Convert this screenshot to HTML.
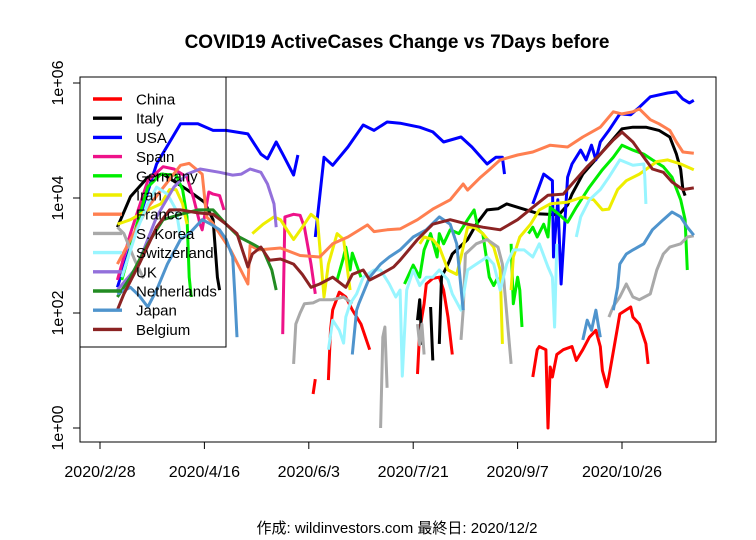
<!DOCTYPE html>
<html><head><meta charset="utf-8"><style>
body{margin:0;background:#fff;width:756px;height:540px;overflow:hidden}
svg{display:block;font-family:"Liberation Sans","Noto Sans CJK JP",sans-serif}
</style></head><body>
<svg id="chart" width="756" height="540">
<text x="397" y="48" text-anchor="middle" font-size="19" font-weight="bold">COVID19 ActiveCases Change vs 7Days before</text>
<rect x="80" y="77" width="636" height="365" fill="none" stroke="#000" stroke-width="1"/>
<g id="axes"></g>
<g id="series"></g>
<g id="legend"></g>
<text x="397" y="533" text-anchor="middle" font-size="15">作成: wildinvestors.com 最終日: 2020/12/2</text>
</svg>
<script>
// Day index counted from 2020/2/28; values are ActiveCases change vs 7 days before
const xTickLabels = ["2020/2/28","2020/4/16","2020/6/3","2020/7/21","2020/9/7","2020/10/26"];
const xTickDays = [0,48,96,144,192,240];
const yTickLabels = ["1e+00","1e+02","1e+04","1e+06"];
const yTickValues = [1,100,10000,1000000];
const seriesNames = ["China","Italy","USA","Spain","Germany","Iran","France","S. Korea","Switzerland","UK","Netherlands","Japan","Belgium"];
const seriesColors = ["#FF0000","#000000","#0000FF","#EE1289","#00EE00","#EEEE00","#FF7F50","#A9A9A9","#98F5FF","#9370DB","#228B22","#4F94CD","#8B2323"];

const china = [[98,3.9],[99,7.1],null,[105,6.8],[106,50],[107,113],[110,230],[113,190],[116,113],[120,64],[124,23],null,[146,8.7],[147,50],[149,145],[150,320],[153,400],[156,420],[158,250],[160,85],[162,19],null,[199,7.7],[201,23],[202,26],[205,23],[206,1.0],[207,11.5],[208,7.7],[210,19],[213,23],[217,26],[219,15],[222,23],[225,38],[228,50],[230,26],[231,10],[233,5.2],[234,7.7],[238,57],[239,96],[244,127],[245,85],[248,64],[251,29],[252,13]];
const italy = [[8,3100],[14,10500],[22,23000],[29,26000],[40,14000],[48,8500],[52,4200],[54,420],[55,250],null,[146,75],[147,170],[148,28],null,[152,127],[153,15],null,[156,29],[157,420],[160,710],[162,1060],[169,1900],[173,3500],[178,6200],[183,6500],[187,7900],[196,6200],[202,5300],[211,5100],[215,7600],[217,11700],[222,26000],[230,58000],[236,106000],[240,160000],[245,170000],[251,170000],[257,150000],[262,115000],[265,58000],[267,31000],[268,14000],[269,11000]];
const usa = [[8,280],[26,39000],[37,195000],[45,195000],[52,150000],[58,150000],[68,130000],[74,58000],[77,48000],[81,94000],[84,58000],[89,25000],[91,56000],null,[99,2100],[103,51000],[107,37000],[114,77000],[121,186000],[126,150000],[132,210000],[138,200000],[147,170000],[153,141000],[158,94000],[166,115000],[171,77000],[178,39000],[182,51000],[185,51000],[186,26000],null,[199,7900],[204,26000],[208,20000],[208.5,940],[210.5,9300],[212,320],[215,23000],[217,39000],[221,68000],[223.5,46000],[226,83000],[228,46000],[230,94000],[234,150000],[239,290000],[244,280000],[248,380000],[253,575000],[261,670000],[265,700000],[268,525000],[271,450000],[273,500000]];
const spain = [[8,375],[14,2400],[22,20000],[29,35000],[34,32000],[40,23000],[43,10000],[46,3500],[47,2800],[50,12700],[52,11700],[55,11000],[57,6200],null,[84,43],[85,4700],[89,5200],[92,5000],[94,3100],[97,710],[99,215]];
const germany = [[10,375],[17,3500],[22,15500],[28,26000],[35,25000],[38,14000],[40,4700],[41,420],[42,190],null,[109,375],[112,940],[113,1400],[115,560],[116,1100],[120,420],null,[140,320],[144,680],[147,420],[149,1250],[152,2400],[155,940],[156,2400],[158,1600],[161,2800],[165,2400],[169,4200],[172,6200],[174,2800],[176,2400],[179,420],[181,300],[183,420],null,[189,1600],[190,145],[192,420],[193,250],[194,57],null,[197,2400],[199,3100],[201,2100],[204,3500],[206,2100],[207,6900],[211,5200],[215,3800],[219,6900],[225,15500],[231,31000],[236,51000],[240,83000],[245,68000],[250,58000],[254,46000],[259,35000],[263,23000],[267,9300],[269,4200],[270,560]];
const iran = [[8,3500],[14,4200],[22,6200],[28,7900],[32,14000],[35,14000],[38,7900],[40,3500],null,[70,2400],[75,3500],[80,4700],[83,4200],[86,2800],[89,1900],[93,3100],[97,5200],[100,4200],[103,190],[105,710],[109,2400],[112,1900],[115,250],null,[147,1600],[149,2100],[153,1900],[156,1400],[160,560],[164,470],[166,940],[169,3100],[172,3100],[176,2400],[181,1400],[184,560],[185,29],null,[189,250],[190,940],[193,2100],[198,3500],[202,6200],[207,7900],[215,8500],[222,10400],[227,9300],[231,6200],[234,6400],[238,14000],[242,20000],[248,26000],[256,43000],[261,46000],[267,39000],[273,31000]];
const france = [[8,710],[22,6900],[37,37000],[41,40000],[47,26000],[49,4700],[51.5,3800],[60,1250],[68,320],[69,1500],[73,1250],[83,1350],[92,1000],[101,940],[107,1600],[114,2100],[123,3400],[126,2600],[132,2800],[138,2900],[146,4200],[153,6400],[161,9300],[167,17500],[169,13700],[175,23000],[179,31000],[184,46000],[192,56000],[199,63000],[207,83000],[215,77000],[222,115000],[230,170000],[236,315000],[240,290000],[245,315000],[248,355000],[253,230000],[257,195000],[262,150000],[265,94000],[268,63000],[273,60000]];
const korea = [[8,3100],[11,2400],[16,830],[20,400],null,[89,13],[90,64],[92,100],[94,145],[98,150],[101,170],[107,170],[112,190],[116,145],null,[129,1],[130,38],[131,57],[132,5],null,[146,64],[147,28],[148,64],[149,19],null,[166,34],[167,112],[168,1060],[173,1600],[178,1900],[183,1400],[185,710],[189,13],null,[234,85],[236,130],[239,190],[242,320],[245,190],[248,170],[253,215],[256,560],[259,1060],[262,1400],[267,1600],[270,2100],[273,2200]];
const swiss = [[10,420],[17,2800],[22,7900],[26,15500],[31,11700],[35,6200],[37,2100],null,[105,23],[107,75],[110,50],[112,30],[113,85],[115,145],[118,215],[121,420],[126,560],[129,560],[133,320],[136,190],[138,250],[139,8],[141,250],[144,560],[147,300],[150,420],[153,420],[156,560],[160,375],[162,215],[166,112],[169,560],[173,710],[178,940],[181,710],[184,250],[187,710],[190,1250],[195,1250],[199,940],[202,1600],[206,630],[208,420],[209,57],[210,1600],null,[219,2100],[221,4700],[225,9300],[230,14000],[234,23000],[239,46000],[245,37000],[250,39000],[250.5,23000],[251,7900]];
const uk = [[8,250],[17,630],[26,4700],[34,15500],[40,26000],[46,32000],[55,28000],[61,25000],[65,26000],[69,32000],[74,28000],[77,17500],[80,7900],[81,3100]];
const netherlands = [[8,190],[14,420],[22,1600],[29,4200],[37,5200],[45,6200],[52,6200],[58,3500],[64,2100],[70,1600],[75,1250],[79,560],[81,250]];
const japan = [[8,215],[14,280],[18,200],[22,127],[26,250],[31,710],[37,1900],[41,2400],[47,4200],[51,3500],[55,2800],[58,1900],[61,940],[62,215],[63,38],null,[116,19],[118,112],[119,145],[124,420],[129,710],[133,940],[138,1250],[144,2100],[150,2800],[156,4700],[161,3500],[164,1600],[167,112],null,[222,34],[224,75],[226,50],[228,112],[230,38],null,[236,112],[238,280],[239,710],[242,1060],[245,1250],[250,1600],[254,2800],[259,4200],[263,5700],[267,4700],[270,3100],[273,2250]];
const belgium = [[8,113],[11,215],[18,710],[26,3100],[32,6200],[37,6200],[45,5500],[52,5200],[58,3500],[63,2400],[68,630],[70,1060],[74,1400],[78,830],[83,870],[89,710],[93,470],[97,280],[101,320],[107,420],[113,280],[116,470],[121,560],[124,375],[129,470],[135,630],[138,830],[146,1900],[153,3500],[161,4200],[169,3500],[176,3100],[184,2800],[192,4200],[199,6900],[206,11200],[213,11700],[217,17500],[224,35000],[230,58000],[236,102000],[240,140000],[245,94000],[250,51000],[254,32000],[259,28000],[263,19000],[268,14000],[273,15000]];
const allSeries = [china,italy,usa,spain,germany,iran,france,korea,swiss,uk,netherlands,japan,belgium];

const NS="http://www.w3.org/2000/svg";
function xScale(d){return 100 + d*2.175;}
function yScale(v){return 428 - Math.log10(v)*57.5;}
function mk(tag,attrs,parent){const e=document.createElementNS(NS,tag);for(const k in attrs)e.setAttribute(k,attrs[k]);parent.appendChild(e);return e;}

const axes=document.getElementById('axes');
const xl=mk('line',{x1:xScale(xTickDays[0]),x2:xScale(xTickDays[xTickDays.length-1]),y1:442,y2:442,stroke:'#000'},axes);


xTickDays.forEach((d,i)=>{
  const t=mk('line',{x1:xScale(d),x2:xScale(d),y1:442,y2:449,stroke:'#000'},axes);
  
  
  const tx=mk('text',{x:xScale(d),y:477,'text-anchor':'middle','font-size':16},axes);
  tx.textContent=xTickLabels[i];
  
  
});
const yl=mk('line',{x1:80,x2:80,y1:yScale(yTickValues[0]),y2:yScale(yTickValues[yTickValues.length-1]),stroke:'#000'},axes);


yTickValues.forEach((v,i)=>{
  const y=yScale(v);
  const t=mk('line',{x1:73,x2:80,y1:y,y2:y,stroke:'#000'},axes);
  
  
  const tx=mk('text',{x:0,y:0,'text-anchor':'middle','font-size':16,transform:`translate(63,${y}) rotate(-90)`},axes);
  tx.textContent=yTickLabels[i];
  
  
});

const sg=document.getElementById('series');
allSeries.forEach((s,i)=>{
  let d='',pen=false;
  s.forEach(p=>{
    if(!p){pen=false;return;}
    d+=(pen?'L':'M')+xScale(p[0]).toFixed(1)+','+yScale(p[1]).toFixed(1);
    pen=true;
  });
  const path=mk('path',{d:d,fill:'none',stroke:seriesColors[i],'stroke-width':3,'stroke-linejoin':'round'},sg);
  
  
});

const lg=document.getElementById('legend');
const box=mk('rect',{x:80,y:77,width:146,height:270,fill:'none',stroke:'#000'},lg);


seriesNames.forEach((n,i)=>{
  const y=99+i*19.2;
  const l=mk('line',{x1:93,x2:122,y1:y,y2:y,stroke:seriesColors[i],'stroke-width':3.4},lg);
  
  
  const t=mk('text',{x:136,y:y+5.5,'font-size':15},lg);
  t.textContent=n;
  
  
});
</script>
</body></html>
